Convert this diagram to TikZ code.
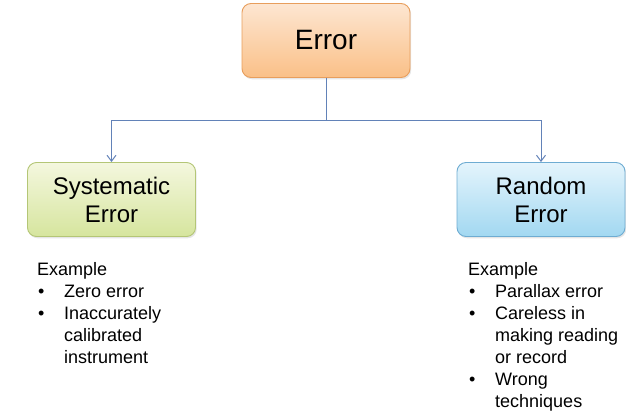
\documentclass[tikz,border=0pt]{standalone}
\usepackage{fontspec}
\setmainfont{Liberation Sans}
\usepackage{tikz}
\usetikzlibrary{calc,arrows.meta,shadows}
\usepackage{xcolor}

\definecolor{orangetop}{RGB}{253,230,210}
\definecolor{orangebot}{RGB}{250,192,135}
\definecolor{orangeline}{RGB}{232,158,92}
\definecolor{greentop}{RGB}{244,247,222}
\definecolor{greenbot}{RGB}{214,229,158}
\definecolor{greenline}{RGB}{180,198,118}
\definecolor{bluetop}{RGB}{228,244,252}
\definecolor{bluebot}{RGB}{162,216,241}
\definecolor{blueline}{RGB}{110,172,210}
\definecolor{linkcol}{RGB}{98,130,184}

\tikzset{
    errbox/.style={rectangle, rounded corners=9pt, minimum width=168pt, minimum height=74pt,
        line width=0.9pt, align=center, inner sep=0pt,
        drop shadow={opacity=0.2, shadow xshift=1.2pt, shadow yshift=-1.8pt}},
    link/.style={linkcol, line width=1pt, -{Straight Barb[length=6pt,width=9pt]}},
    extext/.style={anchor=base west, inner sep=0pt, font=\fontsize{18}{22}\selectfont}
}

\begin{document}
\begin{tikzpicture}[x=1pt,y=-1pt]
    \useasboundingbox (0,0) rectangle (626,418);
	\pgfmathsetmacro{\by}{120}	%height of the branch line

    \coordinate (E) at (326,40.5);
    \coordinate (S) at (111.5,199.5);
    \coordinate (R) at (541,199.5);

    \node[errbox, draw=orangeline, top color=orangetop, bottom color=orangebot,
        font=\fontsize{28}{32}\selectfont] (error) at (E) {Error};
    \node[errbox, draw=greenline, top color=greentop, bottom color=greenbot,
        font=\fontsize{24}{28}\selectfont] (sys) at (S) {Systematic\\Error};
    \node[errbox, draw=blueline, top color=bluetop, bottom color=bluebot,
        font=\fontsize{24}{28}\selectfont] (rand) at (R) {Random\\Error};

    \coordinate (B) at ($(error.south) + (0,\by-77)$);
    \coordinate (BS) at (sys.north |- B);
    \coordinate (BR) at (rand.north |- B);

    \draw[linkcol, line width=1pt] (error.south) -- (B);
    \draw[link] (B) -- (BS) -- (sys.north);
    \draw[link] (B) -- (BR) -- (rand.north);

    \node[extext] (sysex) at (37,275) {%
        \begin{tabular}[t]{@{}p{27pt}@{}l@{}}
        \multicolumn{2}{@{}l}{Example}\\
        \hspace{1pt}\textbullet & Zero error\\
        \hspace{1pt}\textbullet & Inaccurately\\
         & calibrated\\
         & instrument
        \end{tabular}};
    \node[extext] (randex) at (468,275) {%
        \begin{tabular}[t]{@{}p{27pt}@{}l@{}}
        \multicolumn{2}{@{}l}{Example}\\
        \hspace{1pt}\textbullet & Parallax error\\
        \hspace{1pt}\textbullet & Careless in\\
         & making reading\\
         & or record\\
        \hspace{1pt}\textbullet & Wrong\\
         & techniques
        \end{tabular}};
\end{tikzpicture}
\end{document}
